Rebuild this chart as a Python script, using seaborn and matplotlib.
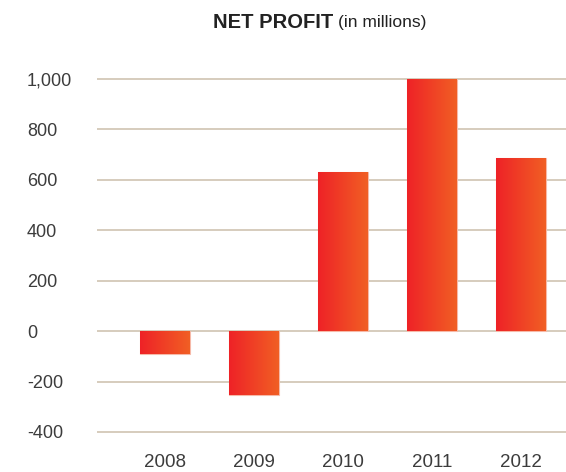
import numpy as np
import pandas as pd
import matplotlib
matplotlib.use("Agg")
import matplotlib.pyplot as plt
import seaborn as sns
from matplotlib.colors import LinearSegmentedColormap
from matplotlib.ticker import FuncFormatter

years = ["2008", "2009", "2010", "2011", "2012"]
profit = [-90, -255, 632, 1000, 688]
yticks = [-400, -200, 0, 200, 400, 600, 800, 1000]

sns.set_theme(style="white")
plt.rcParams['font.family'] = ['Liberation Sans', 'DejaVu Sans']

df = pd.DataFrame({"year": years, "profit": profit})

fig = plt.figure(figsize=(5.66, 4.72), dpi=100)
ax = fig.add_axes([97/566, 1 - 434.5/472, 1 - 97/566, (434.5 - 76.5)/472])

sns.barplot(data=df, x="year", y="profit", ax=ax, width=0.56,
            color="#EE2A26", saturation=1, zorder=3)

ax.set_xlim(-0.76, 4.5)
ax.set_ylim(-410, 1010)
ax.set_yticks(yticks)
ax.yaxis.set_major_formatter(FuncFormatter(lambda v, p: f"{int(v):,}"))
ax.grid(axis="y", color="#CFC4B2", linewidth=1.2, zorder=0)
ax.grid(axis="x", visible=False)
for s in ax.spines.values():
    s.set_visible(False)
ax.tick_params(axis="y", length=0, pad=70 * 72 / 100, labelsize=13, labelcolor="#3c3c3c")
for lbl in ax.get_yticklabels():
    lbl.set_horizontalalignment("left")
ax.tick_params(axis="x", length=0, pad=14, labelsize=13.5, labelcolor="#3c3c3c")
ax.set_xlabel("")
ax.set_ylabel("")

cmap = LinearSegmentedColormap.from_list("g", ["#EE2227", "#F15F24"])
grad = np.linspace(0, 1, 256).reshape(1, -1)
for patch in ax.patches:
    x0 = patch.get_x()
    w = patch.get_width()
    y0 = patch.get_y()
    h = patch.get_height()
    ylo, yhi = min(y0, y0 + h), max(y0, y0 + h)
    im = ax.imshow(grad, cmap=cmap, aspect="auto", extent=[x0, x0 + w, ylo, yhi],
                   zorder=3, interpolation="bicubic")
    im.set_clip_path(patch)
    patch.set_facecolor("none")
    patch.set_edgecolor("#F6B9A8")
    patch.set_linewidth(0.8)
ax.set_xlim(-0.76, 4.5)
ax.set_ylim(-410, 1010)

t1 = fig.text(213/566, 1 - 22/472, "NET PROFIT", fontsize=14.5, fontweight="bold",
              color="#222222", ha="left", va="center")
fig.canvas.draw()
bb = t1.get_window_extent()
fig.text((bb.x1 + 5) / fig.bbox.width, 1 - 22.5/472, "(in millions)", fontsize=12.5,
         color="#222222", ha="left", va="center")

fig.savefig("out.png", dpi=100)
